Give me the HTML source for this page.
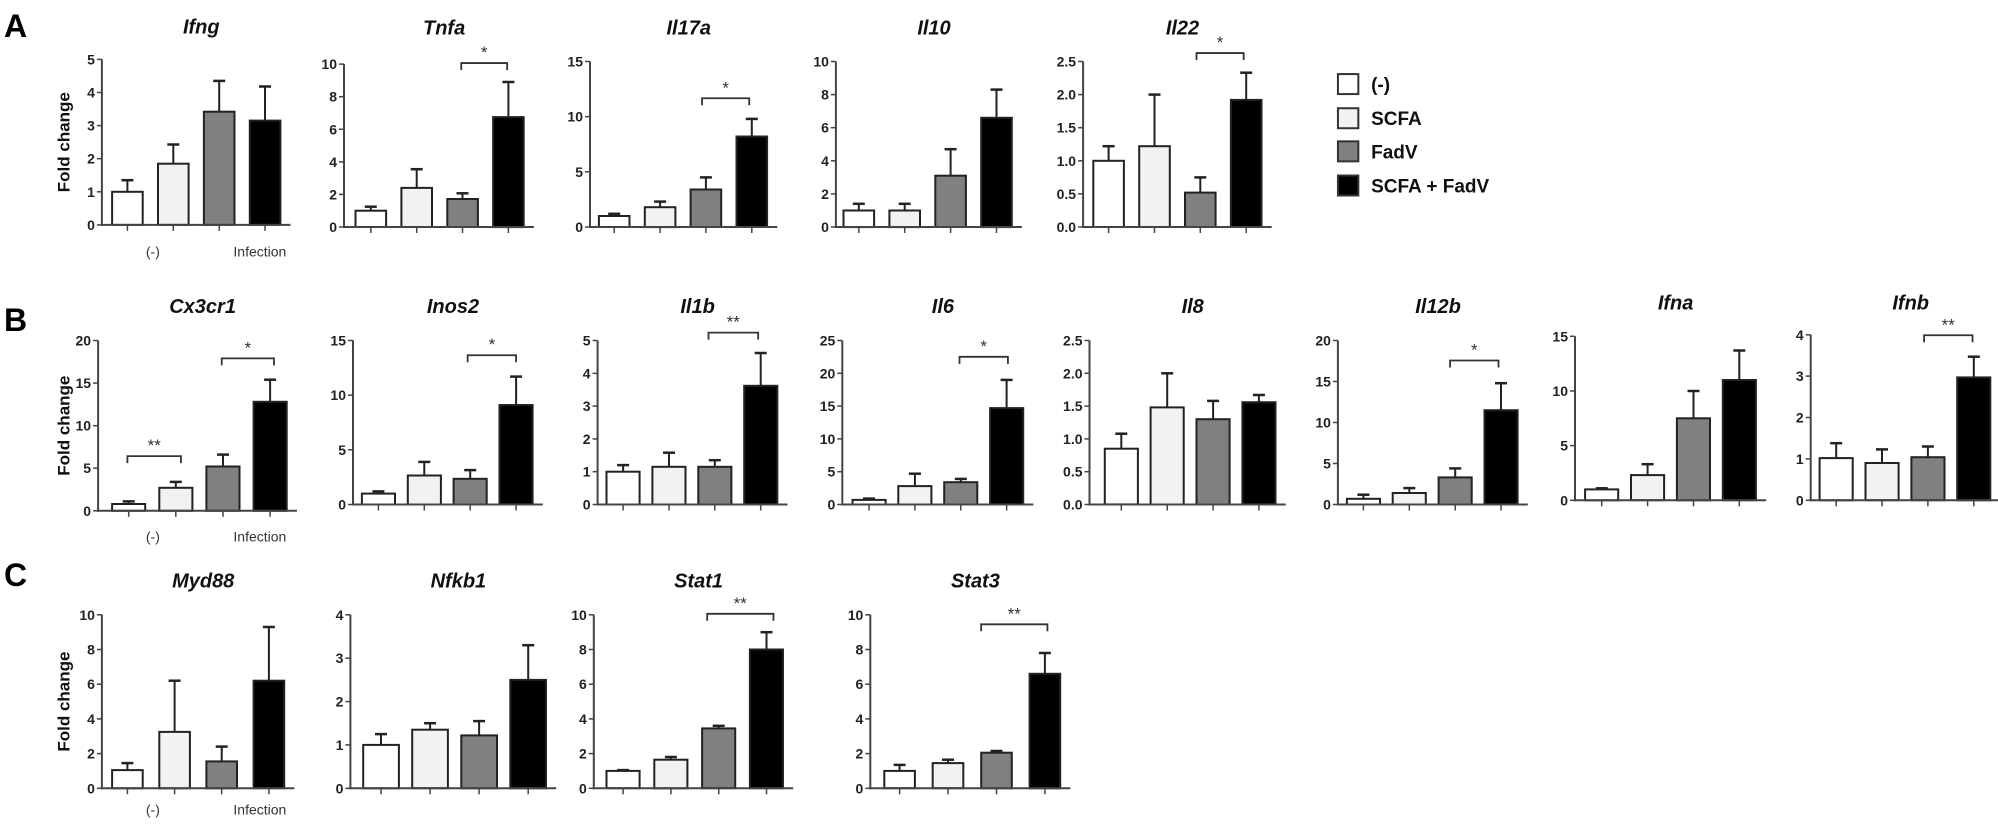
<!DOCTYPE html>
<html><head><meta charset="utf-8">
<style>
html,body{margin:0;padding:0;background:#fff;}
svg{display:block;}
text{font-family:"Liberation Sans",sans-serif;}
</style></head>
<body>
<svg id="s" xmlns="http://www.w3.org/2000/svg" width="1998" height="824" viewBox="0 0 1998 824"></svg>
<script>
const KX=1998/1568, KY=824/1568;
const X=v=>v*KX, Y=v=>v*KY;
const fills=['#ffffff','#f2f2f2','#808080','#000000'];
let out='';
function line(x1,y1,x2,y2,w,c){out+=`<line x1="${x1.toFixed(1)}" y1="${y1.toFixed(1)}" x2="${x2.toFixed(1)}" y2="${y2.toFixed(1)}" stroke="${c||'#333'}" stroke-width="${w||2}"/>`;}
function txt(x,y,s,sz,opt){opt=opt||{};out+=`<text x="${x.toFixed(1)}" y="${y.toFixed(1)}" font-size="${sz}" text-anchor="${opt.a||'middle'}" font-weight="${opt.w||'bold'}" ${opt.i?'font-style="italic"':''} fill="${opt.c||'#111'}" ${opt.t?'transform="'+opt.t+'"':''}>${s}</text>`;}
// panel: axis zx, top zy, zero zy, max, step, fmt decimals, bars [[l,r],...], vals, errs, title, titleY, bracket
function panel(p){
  const ax=X(p.ax), yt=Y(p.top), y0=Y(p.zero);
  const sc=v=>y0-(v/p.max)*(y0-yt);
  const xEnd=X(p.bars[3][1]+8);
  // bars
  p.bars.forEach((b,i)=>{
    const l=X(b[0]), r=X(b[1]), cx=(l+r)/2, top=sc(p.vals[i]), et=sc(p.errs[i]);
    line(cx,top,cx,et,2,'#222');
    line(cx-6,et,cx+6,et,2.5,'#222');
    out+=`<rect x="${l.toFixed(1)}" y="${top.toFixed(1)}" width="${(r-l).toFixed(1)}" height="${(y0-top).toFixed(1)}" fill="${fills[i]}" stroke="#222" stroke-width="2"/>`;
    line(cx,y0,cx,y0+6,1.5,'#444');
  });
  // axes
  line(ax,yt,ax,y0+1,2,'#444');
  line(ax-1,y0,xEnd,y0,2,'#444');
  for(let v=0;v<=p.max+1e-9;v+=p.step){
    const y=sc(v);
    line(ax-5,y,ax,y,1.5,'#444');
    txt(ax-7,y+5,v.toFixed(p.dec||0),14,{a:'end',c:'#222'});
  }
  txt(X(p.ax+(p.bars[3][1]-p.ax)/2+8),Y(p.ty)+7,p.title,20,{i:1});
  if(p.br){
    const [a,b,yy,st]=p.br;
    const by=Y(yy);
    out+=`<polyline points="${X(a)},${by+7} ${X(a)},${by} ${X(b)},${by} ${X(b)},${by+7}" fill="none" stroke="#333" stroke-width="1.8"/>`;
    txt((X(a)+X(b))/2,by-5,st,17,{w:'normal',c:'#333'});
  }
  if(p.br2){
    const [a,b,yy,st]=p.br2;
    const by=Y(yy);
    out+=`<polyline points="${X(a)},${by+7} ${X(a)},${by} ${X(b)},${by} ${X(b)},${by+7}" fill="none" stroke="#333" stroke-width="1.8"/>`;
    txt((X(a)+X(b))/2,by-5,st,17,{w:'normal',c:'#333'});
  }
  if(p.fold){
    const cy=(yt+y0)/2, fx=X(50);
    txt(fx+6,cy,'Fold change',17,{t:`rotate(-90 ${fx+6} ${cy})`});
  }
  if(p.inf){
    txt(X(120),Y(p.inf)+8,'(-)',14,{w:'normal',c:'#333'});
    txt(X(204),Y(p.inf)+8,'Infection',14,{w:'normal',c:'#333'});
  }
}
function B4(a,w,g){w=w||24;g=g||36;return [0,1,2,3].map(i=>[a+i*g,a+i*g+w]);}
// Row A
panel({ax:80,top:113,zero:428,max:5,step:1,bars:B4(88),vals:[1,1.85,3.42,3.15],errs:[1.35,2.43,4.35,4.18],title:'Ifng',ty:50,fold:1,inf:473});
panel({ax:270,top:122,zero:432,max:10,step:2,bars:B4(279),vals:[1,2.4,1.72,6.75],errs:[1.25,3.55,2.07,8.9],title:'Tnfa',ty:52,br:[362,398,120,'*']});
panel({ax:463,top:117,zero:432,max:15,step:5,bars:B4(470),vals:[1,1.8,3.4,8.2],errs:[1.2,2.3,4.5,9.8],title:'Il17a',ty:52,br:[551,588,187,'*']});
panel({ax:656,top:117,zero:432,max:10,step:2,bars:B4(662),vals:[1,1,3.1,6.6],errs:[1.4,1.4,4.7,8.3],title:'Il10',ty:52});
panel({ax:850,top:117,zero:432,max:2.5,step:0.5,dec:1,bars:B4(858),vals:[1,1.22,0.52,1.92],errs:[1.22,2.0,0.75,2.33],title:'Il22',ty:52,br:[939,976,101,'*']});
// Row B
panel({ax:77,top:648,zero:972,max:20,step:5,bars:B4(88,26,37),vals:[0.8,2.7,5.2,12.8],errs:[1.1,3.4,6.6,15.4],title:'Cx3cr1',ty:582,fold:1,inf:1015,br:[100,142,868,'**'],br2:[174,215,682,'*']});
panel({ax:277,top:648,zero:960,max:15,step:5,bars:B4(284,26,36),vals:[1,2.65,2.35,9.1],errs:[1.2,3.9,3.15,11.7],title:'Inos2',ty:582,br:[367,405,676,'*']});
panel({ax:469,top:648,zero:960,max:5,step:1,bars:B4(476,26,36),vals:[1,1.15,1.15,3.62],errs:[1.2,1.58,1.35,4.62],title:'Il1b',ty:582,br:[556,595,633,'**']});
panel({ax:661,top:648,zero:960,max:25,step:5,bars:B4(669,26,36),vals:[0.7,2.8,3.4,14.7],errs:[0.9,4.7,3.9,19],title:'Il6',ty:582,br:[753,791,679,'*']});
panel({ax:855,top:648,zero:960,max:2.5,step:0.5,dec:1,bars:B4(867,26,36),vals:[0.85,1.48,1.3,1.56],errs:[1.08,2.0,1.58,1.67],title:'Il8',ty:582});
panel({ax:1050,top:648,zero:960,max:20,step:5,bars:B4(1057,26,36),vals:[0.7,1.4,3.3,11.5],errs:[1.2,2.0,4.4,14.8],title:'Il12b',ty:582,br:[1138,1176,686,'*']});
panel({ax:1236,top:640,zero:952,max:15,step:5,bars:B4(1244,26,36),vals:[1,2.3,7.5,11],errs:[1.1,3.3,10,13.7],title:'Ifna',ty:576});
panel({ax:1421,top:637,zero:952,max:4,step:1,bars:B4(1428,26,36),vals:[1.02,0.9,1.04,2.97],errs:[1.38,1.23,1.3,3.47],title:'Ifnb',ty:576,br:[1510,1548,638,'**']});
// Row C
panel({ax:80,top:1170,zero:1500,max:10,step:2,bars:B4(88,24,37),vals:[1.05,3.25,1.55,6.2],errs:[1.45,6.2,2.4,9.3],title:'Myd88',ty:1105,fold:1,inf:1535});
panel({ax:275,top:1170,zero:1500,max:4,step:1,bars:B4(285,28,38.5),vals:[1,1.35,1.22,2.5],errs:[1.25,1.5,1.55,3.3],title:'Nfkb1',ty:1105});
panel({ax:466,top:1170,zero:1500,max:10,step:2,bars:B4(476,26,37.5),vals:[1,1.65,3.45,8.0],errs:[1.05,1.8,3.6,9.0],title:'Stat1',ty:1105,br:[555,607,1168,'**']});
panel({ax:683,top:1170,zero:1500,max:10,step:2,bars:B4(694,24,38),vals:[1,1.45,2.05,6.6],errs:[1.35,1.65,2.15,7.8],title:'Stat3',ty:1105,br:[770,822,1188,'**']});
// Panel letters
txt(4,Y(70),'A',32,{a:'start',c:'#000'});
txt(4,Y(630),'B',32,{a:'start',c:'#000'});
txt(4,Y(1115),'C',32,{a:'start',c:'#000'});
// legend
const lg=[['(-)',160],['SCFA',225],['FadV',288],['SCFA + FadV',353]];
lg.forEach((l,i)=>{
  const cy=Y(l[1]);
  out+=`<rect x="${X(1050)}" y="${cy-10}" width="${X(16)}" height="20" fill="${fills[i]}" stroke="#333" stroke-width="2"/>`;
  txt(X(1076),cy+7,l[0],19,{a:'start',c:'#111'});
});
document.getElementById('s').innerHTML=out;
</script>
</body></html>
